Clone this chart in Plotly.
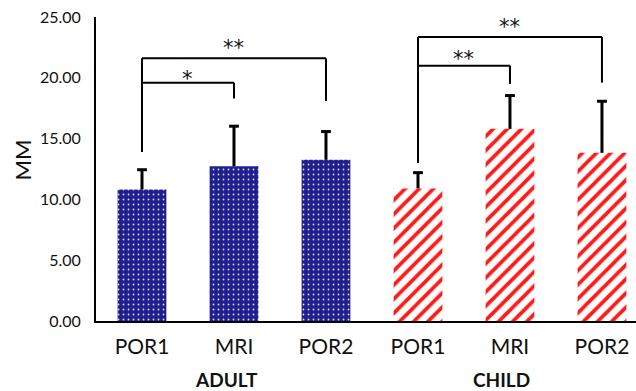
import plotly.graph_objects as go

# ---- data ----
categories = ["POR1", "MRI", "POR2", "POR1", "MRI", "POR2"]
groups = ["ADULT", "CHILD"]
group_label_x = [0.92, 3.91]

adult_x = [0, 1, 2]
adult_mean = [10.81, 12.73, 13.26]
adult_sd = [1.63, 3.29, 2.32]

child_x = [3, 4, 5]
child_mean = [10.90, 15.80, 13.83]
child_sd = [1.30, 2.74, 4.24]

y_ticks = [0, 5, 10, 15, 20, 25]

# significance brackets
sig_from = [0, 0, 3, 3]
sig_to = [1, 2, 4, 5]
sig_level = [19.6, 21.6, 21.0, 23.35]
sig_right_bottom = [18.3, 18.1, 19.5, 19.6]
sig_label = ["*", "**", "**", "**"]
sig_label_y = [20.3, 22.9, 21.97, 24.63]
sig_left_bottom = {0: 13.9, 3: 13.0}

NAVY = "#1f1f8e"
RED = "#ff1a1a"
TXT = "#111111"
FONT = "Lato"

fig = go.Figure()

fig.add_trace(go.Bar(
    x=adult_x, y=adult_mean, width=0.53,
    marker=dict(color=NAVY, line=dict(width=0),
                pattern=dict(shape=".", bgcolor=NAVY, fgcolor="#dcdcee",
                             size=5, solidity=0.1, fillmode="replace")),
    error_y=dict(type="data", symmetric=False, array=adult_sd,
                 arrayminus=[0] * 3, color="black", thickness=3, width=0),
    showlegend=False,
))
fig.add_trace(go.Bar(
    x=child_x, y=child_mean, width=0.53,
    marker=dict(color=RED, line=dict(width=0),
                pattern=dict(shape="/", bgcolor="white", fgcolor=RED,
                             size=10, solidity=0.38, fillmode="replace")),
    error_y=dict(type="data", symmetric=False, array=child_sd,
                 arrayminus=[0] * 3, color="black", thickness=3, width=0),
    showlegend=False,
))

# error-bar caps
cap_x = adult_x + child_x
cap_y = [m + s for m, s in zip(adult_mean + child_mean, adult_sd + child_sd)]
fig.add_trace(go.Scatter(
    x=cap_x, y=cap_y, mode="markers",
    marker=dict(symbol="line-ew", size=7, color="black",
                line=dict(width=3, color="black")),
    showlegend=False, hoverinfo="skip",
))

shapes = []
for i in range(len(sig_from)):
    a, b = sig_from[i], sig_to[i]
    lv = sig_level[i]
    shapes.append(dict(type="line", xref="x", yref="y", x0=a, x1=b, y0=lv, y1=lv,
                       line=dict(color="black", width=2)))
    shapes.append(dict(type="line", xref="x", yref="y", x0=b, x1=b, y0=lv,
                       y1=sig_right_bottom[i], line=dict(color="black", width=2)))
for a, bottom in sig_left_bottom.items():
    top = max(sig_level[i] for i in range(len(sig_from)) if sig_from[i] == a)
    shapes.append(dict(type="line", xref="x", yref="y", x0=a, x1=a, y0=top, y1=bottom,
                       line=dict(color="black", width=2)))

annotations = []
for i in range(len(sig_from)):
    annotations.append(dict(x=(sig_from[i] + sig_to[i]) / 2, y=sig_label_y[i],
                            xref="x", yref="y", text=sig_label[i], showarrow=False,
                            font=dict(family="DejaVu Sans", size=21, color=TXT),
                            xanchor="center", yanchor="middle", yshift=-5))
for g, gx in zip(groups, group_label_x):
    annotations.append(dict(x=gx, y=0, xref="x", yref="paper", text="<b>%s</b>" % g,
                            showarrow=False, font=dict(family=FONT, size=19, color=TXT),
                            xanchor="center", yanchor="middle", yshift=-58))
annotations.append(dict(x=0, y=0.528, xref="paper", yref="paper", text="MM",
                        textangle=-90, showarrow=False, xshift=-74,
                        font=dict(family=FONT, size=22, color=TXT),
                        xanchor="center", yanchor="middle"))

fig.update_layout(
    width=636, height=391,
    margin=dict(l=96, r=0, t=17, b=70, pad=0),
    paper_bgcolor="white", plot_bgcolor="white",
    barmode="overlay",
    shapes=shapes, annotations=annotations,
    font=dict(family=FONT, color=TXT),
)
fig.update_xaxes(
    range=[-0.5, 5.37], tickmode="array", tickvals=list(range(6)), ticktext=categories,
    showline=True, linecolor="black", linewidth=2, showgrid=False, zeroline=False,
    ticks="outside", ticklen=6, tickcolor="rgba(0,0,0,0)",
    tickfont=dict(family=FONT, size=21, color=TXT),
)
fig.update_yaxes(
    range=[0, 25], tickmode="array", tickvals=y_ticks, tickformat=".2f",
    showline=True, linecolor="black", linewidth=2, showgrid=False, zeroline=False,
    ticks="outside", ticklen=10, tickcolor="rgba(0,0,0,0)",
    tickfont=dict(family=FONT, size=16, color=TXT),
)

fig.write_html("out.html", config={"displayModeBar": False},
               post_script="document.body.style.margin='0';document.body.style.overflow='hidden';")
